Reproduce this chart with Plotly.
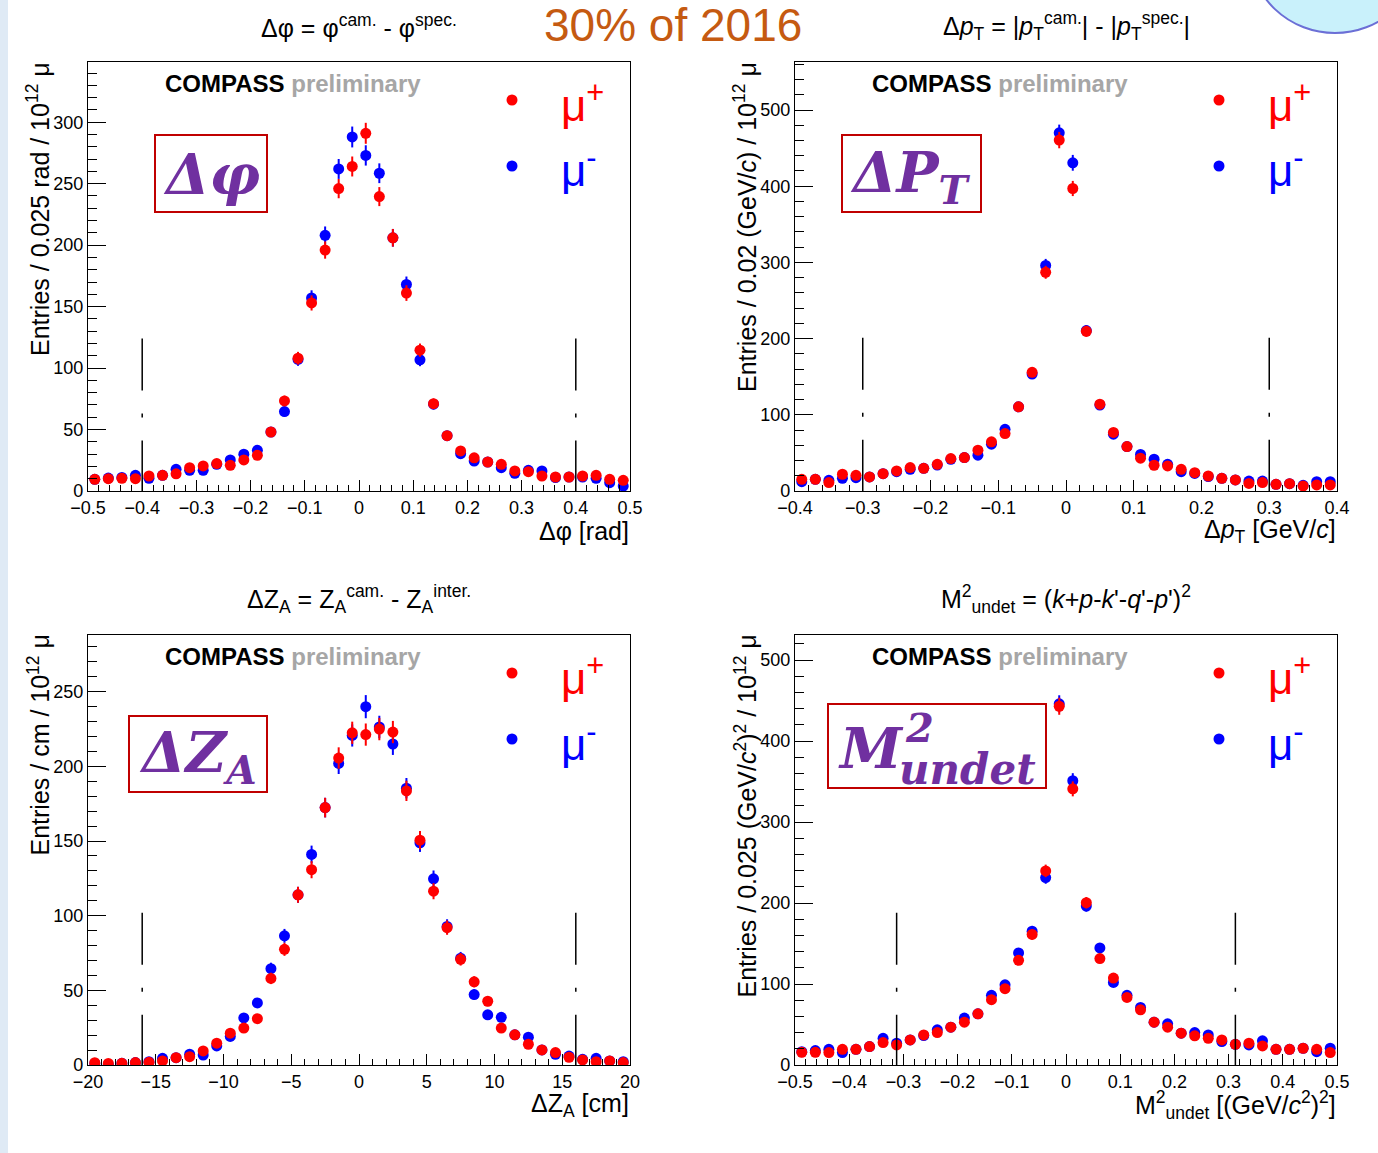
import numpy as np
import plotly.graph_objects as go

W, H = 1378, 1153

# ---------------- data ----------------
dphi_edges = (-0.5, 0.5, 40)
dphi_mup = [9.5, 10, 10.3, 10, 12.2, 12.8, 14, 19, 20.4, 22.3, 20.9, 25.3, 29, 48, 73.3, 108, 153, 196, 246, 264,
            291, 239.5, 206, 161, 114.6, 71, 45, 32.6, 27, 23.6, 21.7, 16.3, 15.7, 12.2, 11.4, 11.4, 12.2, 12.8, 9.5, 8.7]
dphi_mum = [9.5, 10.5, 11, 12.8, 10.3, 12.8, 17.6, 16.8, 16.8, 21.7, 25.3, 29.9, 33.1, 48, 64.6, 107, 157, 208, 262, 288,
            273, 258.5, 206, 168, 106.7, 70.6, 45, 30.4, 24.4, 23.6, 19, 14.4, 16.8, 16.3, 10.9, 11.4, 11.4, 10.3, 6.8, 4]

dpt_edges = (-0.4, 0.4, 40)
dpt_mup = [15.4, 15.4, 11, 22, 20.6, 18.4, 22.8, 26.3, 30.7, 29.8, 35, 42.5, 43.9, 53.5, 64.5, 75.4, 110.5, 155.7, 287, 460.5,
           397, 209.6, 114, 76.8, 58.3, 43, 33.8, 32.9, 28.5, 24, 19.7, 16.7, 14.5, 10, 11, 8.8, 9.6, 6.6, 7.9, 7.9]
dpt_mum = [12.3, 15.4, 14, 16.7, 17.5, 18.4, 22.8, 25.4, 28.5, 29.8, 34, 41.6, 43.9, 47, 61.4, 81, 110.5, 153.5, 296, 470,
           430.7, 210.5, 112.7, 74.6, 58.3, 48, 41.7, 35, 25.4, 23, 19, 16.7, 14.5, 13, 13, 8.8, 9.6, 7.5, 12.3, 12.3]

dz_edges = (-20, 20, 40)
dz_mup = [1.5, 1, 1.1, 1.6, 1.8, 2.7, 4.9, 5.6, 9.4, 14.6, 21.3, 24.7, 31, 58, 77.5, 114, 130.8, 172.4, 205.6, 222.5,
          221.3, 225, 223, 183.6, 150.6, 116.4, 92, 70.8, 55.7, 42.7, 24.7, 20.2, 13.9, 10.1, 8.3, 5.2, 3.4, 2.2, 2.7, 1.6]
dz_mum = [1, 0.3, 1.1, 1.6, 2.2, 4.5, 4.9, 7.2, 6.7, 12.8, 19.1, 31.5, 41.6, 64.5, 86.5, 114, 141, 172.4, 202, 220.7,
          240, 226.4, 215, 185.4, 148.8, 124.7, 92.8, 71.5, 47.2, 33.6, 31.9, 20.2, 18.6, 10.1, 7.2, 6, 3.8, 4.5, 2.7, 2.2]

m2_edges = (-0.5, 0.5, 40)
m2_mup = [15.7, 15.7, 15.3, 19.4, 19.4, 22.7, 27.7, 24.8, 31, 37.2, 40, 46.7, 52.9, 63.2, 80.6, 94.2, 129.3, 161.2, 239.7, 443,
          341, 200.4, 131.4, 107.4, 83.5, 68.2, 52.9, 46.7, 39.3, 36, 33, 31, 25.6, 26.9, 23.6, 19.4, 19.4, 20.7, 19.4, 15.3]
m2_mum = [16.5, 17.8, 19.4, 15.3, 19.4, 22.7, 33, 26.9, 31, 36.4, 43.4, 46.7, 57.9, 63.2, 86, 99, 138.4, 165.3, 231.4, 446,
          351, 196.3, 144.6, 102, 86, 71, 52.9, 50.8, 39.3, 40, 37.2, 29, 25.6, 24.8, 29.8, 19.4, 19.4, 20.7, 16.5, 20.7]

# cut positions and heights of dash-dot cut lines
cuts = [0.4, 0.3, 16, 0.3125]
cut_tops = [124, 201, 102, 188]

# axis settings
x_ranges = [[-0.5, 0.5], [-0.4, 0.4], [-20, 20], [-0.5, 0.5]]
x_dticks = [0.1, 0.1, 5, 0.1]
x_minor = [0.02, 0.02, 1, 0.02]
y_ranges = [[0, 349], [0, 563], [0, 288], [0, 531]]
y_dticks = [50, 100, 50, 100]
y_minor = [10, 20, 10, 20]

titles = [
    "Δφ = φ<sup>cam.</sup> - φ<sup>spec.</sup>",
    "Δ<i>p</i><sub>T</sub> = |<i>p</i><sub>T</sub><sup>cam.</sup>| - |<i>p</i><sub>T</sub><sup>spec.</sup>|",
    "ΔZ<sub>A</sub> = Z<sub>A</sub><sup>cam.</sup> - Z<sub>A</sub><sup>inter.</sup>",
    "M<sup>2</sup><sub>undet</sub> = (<i>k</i>+<i>p</i>-<i>k</i>'-<i>q</i>'-<i>p</i>')<sup>2</sup>",
]
x_titles = [
    "Δφ [rad]",
    "Δ<i>p</i><sub>T</sub> [GeV/<i>c</i>]",
    "ΔZ<sub>A</sub> [cm]",
    "M<sup>2</sup><sub>undet</sub> [(GeV/<i>c</i><sup>2</sup>)<sup>2</sup>]",
]
y_titles = [
    "Entries / 0.025 rad / 10<sup>12</sup> μ",
    "Entries / 0.02 (GeV/<i>c</i>) / 10<sup>12</sup> μ",
    "Entries / cm / 10<sup>12</sup> μ",
    "Entries / 0.025 (GeV/<i>c</i><sup>2</sup>)<sup>2</sup> / 10<sup>12</sup> μ",
]

# ---------------- layout geometry (pixels) ----------------
frames = [  # x0, x1, ytop, ybottom
    (88, 630, 62, 491),
    (795, 1337, 62, 491),
    (88, 630, 635, 1065),
    (795, 1337, 635, 1065),
]

def px(x):
    return x / W

def py(y):
    return 1 - y / H

FONT = "Liberation Sans, Arial, sans-serif"
RED = "#ff0000"
BLUE = "#0000ff"
PURPLE = "#7030a0"

panels = [
    (dphi_edges, dphi_mup, dphi_mum),
    (dpt_edges, dpt_mup, dpt_mum),
    (dz_edges, dz_mup, dz_mum),
    (m2_edges, m2_mup, m2_mum),
]

fig = go.Figure()
layout = dict(width=W, height=H, margin=dict(l=0, r=0, t=0, b=0, autoexpand=False), autosize=False,
              paper_bgcolor="white", plot_bgcolor="white", showlegend=False,
              font=dict(family=FONT, color="black"))
annotations = []
shapes = []

for i, ((lo, hi, nb), mup, mum) in enumerate(panels):
    n = "" if i == 0 else str(i + 1)
    xa, ya = "x" + n, "y" + n
    edges = np.linspace(lo, hi, nb + 1)
    centers = 0.5 * (edges[:-1] + edges[1:])
    for vals, col in ((mum, BLUE), (mup, RED)):
        v = np.array(vals, dtype=float)
        fig.add_trace(go.Scatter(
            x=centers, y=v, mode="markers", xaxis=xa, yaxis=ya,
            marker=dict(color=col, size=11, line=dict(width=0)),
            error_y=dict(type="data", array=0.5 * np.sqrt(v), color=col, thickness=2, width=0),
            hoverinfo="x+y"))
    x0, x1, yt, yb = frames[i]
    common = dict(showline=True, linecolor="black", linewidth=1.3, mirror=True, showgrid=False,
                  zeroline=False, ticks="inside", tickcolor="black", tickwidth=1, automargin=False,
                  tickfont=dict(family=FONT, size=18, color="black"))
    layout["xaxis" + n] = dict(domain=[px(x0), px(x1)], anchor=ya, range=x_ranges[i],
                               dtick=x_dticks[i], tick0=0, ticklen=11,
                               minor=dict(dtick=x_minor[i], ticklen=6, ticks="inside", tickcolor="black", showgrid=False),
                               **common)
    layout["yaxis" + n] = dict(domain=[py(yb), py(yt)], anchor=xa, range=y_ranges[i],
                               dtick=y_dticks[i], tick0=0, ticklen=18,
                               minor=dict(dtick=y_minor[i], ticklen=9, ticks="inside", tickcolor="black", showgrid=False),
                               **common)
    # cut lines
    for c in (-cuts[i], cuts[i]):
        shapes.append(dict(type="line", xref=xa, yref=ya, x0=c, x1=c, y0=cut_tops[i], y1=0,
                           line=dict(color="black", width=1.5, dash="52px,23px,4px,23px")))
    # titles
    annotations.append(dict(text=titles[i], x=px((x0 + x1) / 2), y=py(yt - 36), xref="paper", yref="paper",
                            xanchor="center", yanchor="middle", showarrow=False,
                            font=dict(family=FONT, size=25, color="black")))
    annotations.append(dict(text=x_titles[i], x=px(x1 + 1), y=py(yb + 40), xref="paper", yref="paper",
                            xanchor="right", yanchor="middle", showarrow=False,
                            font=dict(family=FONT, size=25, color="black")))
    annotations.append(dict(text=y_titles[i], x=px(x0 - 50), y=py(yt - 2), xref="paper", yref="paper",
                            xanchor="center", yanchor="top", textangle=-90, showarrow=False,
                            font=dict(family=FONT, size=25, color="black")))
    # COMPASS preliminary
    annotations.append(dict(text="<b>COMPASS</b> <b><span style='color:#a6a6a6'>preliminary</span></b>",
                            x=px(x0 + 75), y=py(yt + 21), xref="paper", yref="paper",
                            xanchor="left", yanchor="middle", showarrow=False,
                            font=dict(family=FONT, size=24, color="black")))
    # legend
    lx, ly1, ly2 = x0 + 424, yt + 38, yt + 104
    r = 5.5
    for (lyy, col, sym) in ((ly1, RED, "+"), (ly2, BLUE, "-")):
        shapes.append(dict(type="circle", xref="paper", yref="paper", x0=px(lx - r), x1=px(lx + r),
                           y0=py(lyy + r), y1=py(lyy - r), fillcolor=col, line=dict(width=0)))
        annotations.append(dict(text="μ<sup>" + sym + "</sup>", x=px(lx + 47), y=py(lyy + 2), xref="paper",
                                yref="paper", xanchor="left", yanchor="middle", showarrow=False,
                                font=dict(family=FONT, size=44, color=col)))

# header text
annotations.append(dict(text="30% of 2016", x=px(673), y=py(25), xref="paper", yref="paper",
                        xanchor="center", yanchor="middle", showarrow=False,
                        font=dict(family=FONT, size=46, color="#c55a11")))

# boxed labels
boxes = [(155, 135, 267, 212), (842, 135, 981, 212), (129, 716, 267, 792), (828, 704, 1046, 788)]
for (bx0, by0, bx1, by1) in boxes:
    shapes.append(dict(type="rect", xref="paper", yref="paper", x0=px(bx0), x1=px(bx1), y0=py(by1), y1=py(by0),
                       line=dict(color="#c00000", width=2), fillcolor="rgba(0,0,0,0)"))
SERIF = "DejaVu Serif, Liberation Serif, serif"
big = [
    ("<b><i>Δφ</i></b>", 211, 174, 56),
    ("<b><i>ΔP<sub>T</sub></i></b>", 911, 176, 56),
    ("<b><i>ΔZ<sub>A</sub></i></b>", 198, 756, 56),
]
for (t, cx, cy, s) in big:
    annotations.append(dict(text=t, x=px(cx), y=py(cy), xref="paper", yref="paper", xanchor="center",
                            yanchor="middle", showarrow=False, font=dict(family=SERIF, size=s, color=PURPLE)))
annotations.append(dict(text="<b><i>M</i></b>", x=px(836), y=py(748), xref="paper", yref="paper", xanchor="left",
                        yanchor="middle", showarrow=False, font=dict(family=SERIF, size=56, color=PURPLE)))
annotations.append(dict(text="<b><i>2</i></b>", x=px(903), y=py(727), xref="paper", yref="paper", xanchor="left",
                        yanchor="middle", showarrow=False, font=dict(family=SERIF, size=40, color=PURPLE)))
annotations.append(dict(text="<b><i>undet</i></b>", x=px(897), y=py(769), xref="paper", yref="paper", xanchor="left",
                        yanchor="middle", showarrow=False, font=dict(family=SERIF, size=42, color=PURPLE)))

# slide decorations
shapes.insert(0, dict(type="rect", xref="paper", yref="paper", x0=0, x1=px(8), y0=0, y1=1,
                      fillcolor="#dfeaf5", line=dict(width=0), layer="below"))
shapes.insert(1, dict(type="circle", xref="paper", yref="paper", x0=px(1250), x1=px(1420), y0=py(33), y1=py(-130),
                      fillcolor="#c9f1fb", line=dict(color="#6b6fd6", width=2), layer="below"))

layout["annotations"] = annotations
layout["shapes"] = shapes
fig.update_layout(**layout)
fig.write_html("out.html")
